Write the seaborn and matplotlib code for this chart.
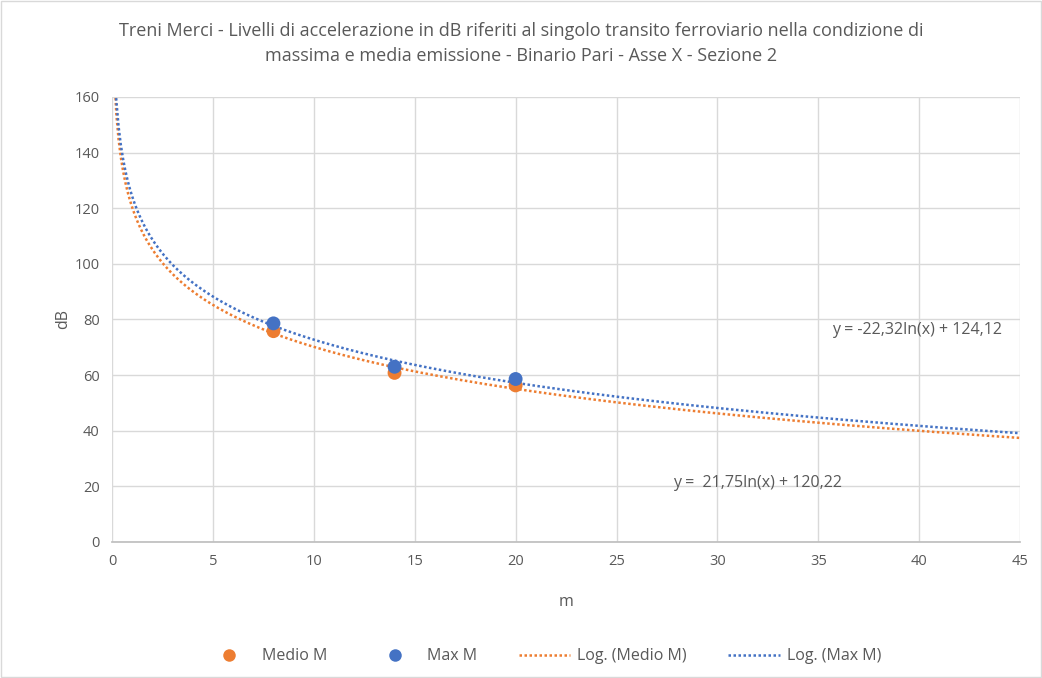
import numpy as np
import pandas as pd
import seaborn as sns
import matplotlib.pyplot as plt
from matplotlib.patches import Rectangle

# dati
distanze = [8, 14, 20]
medio_m = [75.8, 60.8, 56.3]
max_m = [78.6, 63.0, 58.6]
eq_medio = "y =  21,75ln(x) + 120,22"
eq_max = "y = -22,32ln(x) + 124,12"
titolo = ("Treni Merci - Livelli di accelerazione in dB riferiti al singolo transito ferroviario nella condizione di\n"
          "massima e media emissione - Binario Pari - Asse X - Sezione 2")

ARANCIO = "#ED7D31"
BLU = "#4472C4"
GRIGIO = "#595959"

sns.set_theme(style="whitegrid")
plt.rcParams['font.family'] = ['Open Sans', 'DejaVu Sans']

fig = plt.figure(figsize=(10.42, 6.78), dpi=100)
ax = fig.add_axes([0.1075, 0.2006, 0.8715, 0.6564])

punti = pd.DataFrame({"m": distanze * 2,
                      "dB": medio_m + max_m,
                      "serie": ["Medio M"] * 3 + ["Max M"] * 3})

# linee di tendenza logaritmiche (fit su ln(x))
xx = np.linspace(0.1, 45, 400)
curve = []
for nome, vals in [("Log. (Medio M)", medio_m), ("Log. (Max M)", max_m)]:
    a, b = np.polyfit(np.log(distanze), vals, 1)
    curve.append(pd.DataFrame({"m": xx, "dB": a * np.log(xx) + b, "serie": nome}))
curve = pd.concat(curve)

sns.scatterplot(data=punti, x="m", y="dB", hue="serie", palette=[ARANCIO, BLU],
                s=100, edgecolor="none", ax=ax, zorder=3)
sns.lineplot(data=curve, x="m", y="dB", hue="serie", palette=[ARANCIO, BLU],
             linestyle=(0, (1, 1)), linewidth=1.8, ax=ax, zorder=2, sort=False)

ax.set_xlim(0, 45)
ax.set_ylim(0, 160)
ax.set_xticks(range(0, 46, 5))
ax.set_yticks(range(0, 161, 20))
ax.grid(True, color="#d9d9d9", linewidth=1)
for lato in ["top", "right", "left"]:
    ax.spines[lato].set_visible(False)
ax.spines["bottom"].set_color("#bfbfbf")
ax.tick_params(colors=GRIGIO, labelsize=10.5, length=0, pad=9)
ax.set_xlabel("m", color=GRIGIO, fontsize=11.5, labelpad=18)
ax.set_ylabel("dB", color=GRIGIO, fontsize=11.5, labelpad=2)

ax.text(35.7, 76.3, eq_max, color=GRIGIO, fontsize=11.5, va="center")
ax.text(27.8, 21.2, eq_medio, color=GRIGIO, fontsize=11.5, va="center")

fig.suptitle(titolo, color=GRIGIO, fontsize=13, y=0.968, linespacing=1.5)

h, l = ax.get_legend_handles_labels()
ax.legend(h, l, loc="center", bbox_to_anchor=(0.474, -0.257), ncol=4, frameon=False,
          fontsize=11.5, labelcolor=GRIGIO, columnspacing=2.6, handlelength=3.2,
          handletextpad=0.45, markerscale=0.9)

fig.patches.append(Rectangle((0.001, 0.001), 0.998, 0.998, transform=fig.transFigure,
                             fill=False, edgecolor="#d9d9d9", linewidth=1))

fig.savefig("out.png", dpi=100)
